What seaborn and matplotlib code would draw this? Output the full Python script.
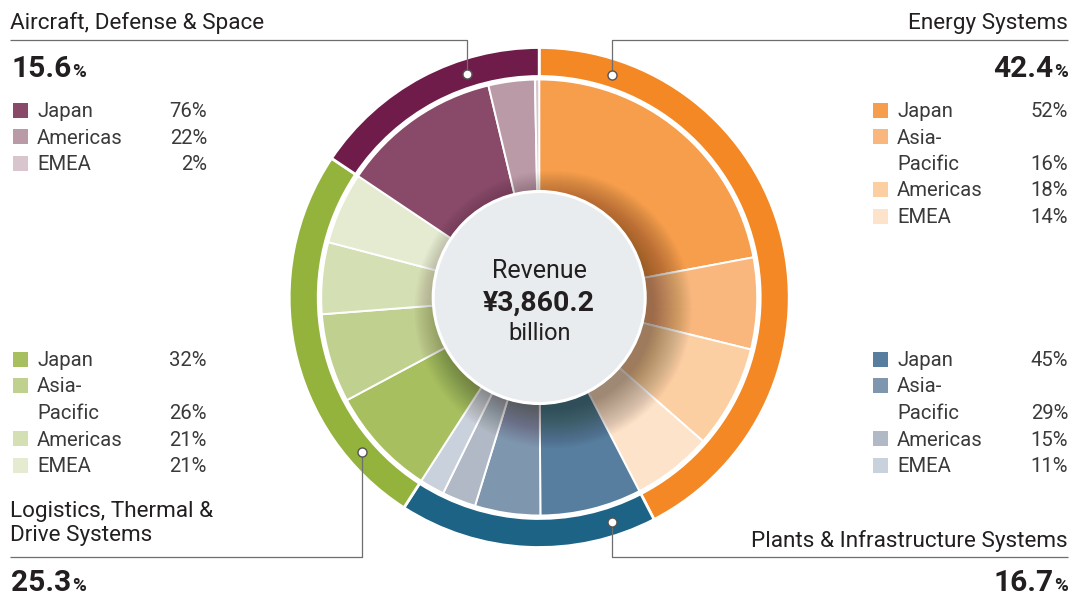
import matplotlib
matplotlib.use("Agg")
import matplotlib.pyplot as plt
from matplotlib.patches import Circle, Rectangle
import seaborn as sns

# ---------------- data ----------------
segments = ["Energy Systems", "Plants & Infrastructure Systems",
            "Logistics, Thermal & Drive Systems", "Aircraft, Defense & Space"]
shares = [42.4, 16.7, 25.3, 15.6]

energy_regions = ["Japan", "Asia-Pacific", "Americas", "EMEA"]
energy_pct = [52, 16, 18, 14]
plants_regions = ["Japan", "Asia-Pacific", "Americas", "EMEA"]
plants_pct = [45, 29, 15, 11]
logistics_regions = ["Japan", "Asia-Pacific", "Americas", "EMEA"]
logistics_pct = [32, 26, 21, 21]
aircraft_regions = ["Japan", "Americas", "EMEA"]
aircraft_pct = [76, 22, 2]

total_label = "¥3,860.2"

# ---------------- style ----------------
outer_colors = ["#F38824", "#1C6386", "#94B33D", "#701C4A"]
energy_colors = ["#F79E4C", "#F9B77E", "#FCCFA3", "#FDE3C9"]
plants_colors = ["#577E9E", "#7E97AF", "#B0B9C5", "#C9D1DC"]
logistics_colors = ["#A8BF5F", "#C0D08F", "#D4DFB3", "#E4EBD1"]
aircraft_colors = ["#894A69", "#BB9AA8", "#D8C5CD"]

sns.set_theme(style="white")
plt.rcParams["font.family"] = ["Roboto", "DejaVu Sans"]
TXT = "#231F20"
LINE = "#6E6E6E"

W, H = 1072, 595
fig = plt.figure(figsize=(W / 100, H / 100), dpi=100)
ax = fig.add_axes([0, 0, 1, 1])

def Y(y):
    return H - y

cx, cy = 539.2, Y(297.5)
R_OUT = 250
R_IN = 218

# outer ring
ax.pie(shares, radius=R_OUT, center=(cx, cy), startangle=90, counterclock=False,
       colors=outer_colors,
       wedgeprops=dict(width=29, edgecolor="white", linewidth=2.0))

# inner ring
inner_vals, inner_cols = [], []
for share, pcts, cols in [(shares[0], energy_pct, energy_colors),
                          (shares[1], plants_pct, plants_colors),
                          (shares[2], logistics_pct, logistics_colors),
                          (shares[3], aircraft_pct, aircraft_colors)]:
    for p, c in zip(pcts, cols):
        inner_vals.append(share * p / 100.0)
        inner_cols.append(c)
ax.pie(inner_vals, radius=R_IN, center=(cx, cy), startangle=90, counterclock=False,
       colors=inner_cols,
       wedgeprops=dict(width=R_IN - 95, edgecolor="white", linewidth=1.4))

# soft shadow of the centre disc (light from upper left)
n = 40
for i in range(n):
    ax.add_patch(Circle((cx + 14, cy - 12), 100 + i * 1.0, fc="#2a1a10",
                        alpha=0.013, lw=0, zorder=4))
ax.add_patch(Circle((cx, cy), 106, fc="#E8ECEE", ec="white", lw=2.2, zorder=5))

ax.text(cx, Y(271), "Revenue", ha="center", va="center", fontsize=18,
        color=TXT, zorder=6)
ax.text(cx, Y(303), total_label, ha="center", va="center", fontsize=20.5,
        fontweight="bold", color=TXT, zorder=6)
ax.text(cx, Y(333), "billion", ha="center", va="center", fontsize=17,
        color=TXT, zorder=6)

ax.set_xlim(0, W)
ax.set_ylim(0, H)
ax.set_aspect("equal")
ax.axis("off")

# ---------------- leader lines ----------------
def leader(xs, ys, dot):
    ax.plot(xs, [Y(v) for v in ys], color=LINE, lw=0.9, zorder=3,
            solid_capstyle="butt")
    ax.plot([dot[0]], [Y(dot[1])], marker="o", ms=6.5, mfc="white",
            mec="#555555", mew=1.0, zorder=8)

leader([10, 467, 467], [40, 40, 74], (467, 74))
leader([1068, 611.5, 611.5], [40, 40, 75], (611.5, 75))
leader([10, 362, 362], [557, 557, 452], (362, 452))
leader([1068, 611.5, 611.5], [557, 557, 522], (611.5, 522))

# ---------------- titles & percentages ----------------
TFS = 16.2
ax.text(10, Y(23), segments[3], ha="left", va="center", fontsize=TFS, color=TXT)
ax.text(1068, Y(23), segments[0], ha="right", va="center", fontsize=TFS, color=TXT)
ax.text(10, Y(511), "Logistics, Thermal &", ha="left", va="center", fontsize=TFS, color=TXT)
ax.text(10, Y(536), "Drive Systems", ha="left", va="center", fontsize=TFS, color=TXT)
ax.text(1068, Y(541), segments[1], ha="right", va="center", fontsize=TFS, color=TXT)

renderer = fig.canvas.get_renderer()
BFS, PFS = 21.5, 13.5

def big_left(x, yb, val):
    t = ax.text(x, Y(yb), f"{val}", ha="left", va="baseline", fontsize=BFS,
                fontweight="bold", color=TXT)
    x1 = t.get_window_extent(renderer).x1
    ax.text(x1 + 1, Y(yb), "%", ha="left", va="baseline", fontsize=PFS,
            fontweight="bold", color=TXT)

def big_right(x, yb, val):
    p = ax.text(x, Y(yb), "%", ha="right", va="baseline", fontsize=PFS,
                fontweight="bold", color=TXT)
    x0 = p.get_window_extent(renderer).x0
    ax.text(x0 - 1, Y(yb), f"{val}", ha="right", va="baseline", fontsize=BFS,
            fontweight="bold", color=TXT)

big_left(11, 77, shares[3])
big_right(1068, 77, shares[0])
big_left(11, 591, shares[2])
big_right(1068, 591, shares[1])

# ---------------- legends ----------------
LFS = 14.6
LTXT = "#3A3A3A"
def legend(x_sq, x_txt, x_pct, y0, regions, pcts, cols):
    y = y0
    for reg, p, c in zip(regions, pcts, cols):
        ax.add_patch(Rectangle((x_sq, Y(y) - 7.5), 15, 15, fc=c, lw=0))
        if reg == "Asia-Pacific":
            ax.text(x_txt, Y(y + 1.5), "Asia-", ha="left", va="center", fontsize=LFS, color=LTXT)
            y += 26.5
            ax.text(x_txt, Y(y + 1.5), "Pacific", ha="left", va="center", fontsize=LFS, color=LTXT)
        else:
            ax.text(x_txt, Y(y + 1.5), reg, ha="left", va="center", fontsize=LFS, color=LTXT)
        ax.text(x_pct, Y(y + 1.5), f"{p}%", ha="right", va="center", fontsize=LFS, color=LTXT)
        y += 26.5

legend(13, 37, 207, 110, aircraft_regions, aircraft_pct, aircraft_colors)
legend(873, 897, 1068, 110, energy_regions, energy_pct, energy_colors)
legend(13, 37, 207, 359, logistics_regions, logistics_pct, logistics_colors)
legend(873, 897, 1068, 359, plants_regions, plants_pct, plants_colors)

fig.savefig("out.png", dpi=100)
